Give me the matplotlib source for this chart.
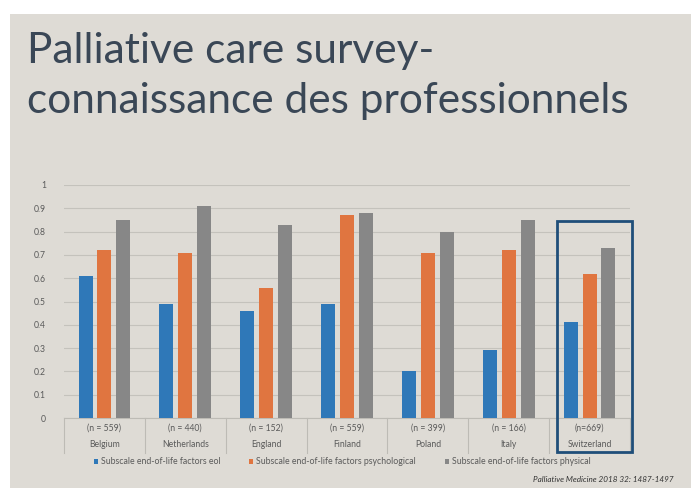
import matplotlib
matplotlib.use("Agg")
import matplotlib.pyplot as plt
import matplotlib.transforms as mtransforms
from matplotlib.patches import Rectangle
import numpy as np

plt.rcParams['font.family'] = ['Lato', 'DejaVu Sans']

countries = ['Belgium', 'Netherlands', 'England', 'Finland', 'Poland', 'Italy', 'Switzerland']
sizes = ['(n = 559)', '(n = 440)', '(n = 152)', '(n = 559)', '(n = 399)', '(n = 166)', '(n=669)']
eol = [0.61, 0.49, 0.46, 0.49, 0.20, 0.29, 0.41]
psychological = [0.72, 0.71, 0.56, 0.87, 0.71, 0.72, 0.62]
physical = [0.85, 0.91, 0.83, 0.88, 0.80, 0.85, 0.73]
series_names = ['Subscale end-of-life factors eol',
                'Subscale end-of-life factors psychological',
                'Subscale end-of-life factors physical']
yticks = [0, 0.1, 0.2, 0.3, 0.4, 0.5, 0.6, 0.7, 0.8, 0.9, 1]
ytick_labels = ['0', '0.1', '0.2', '0.3', '0.4', '0.5', '0.6', '0.7', '0.8', '0.9', '1']

colors = ['#2f78b8', '#e07540', '#878787']
bg = '#dedbd5'
txt = '#5a5a5a'

fig = plt.figure(figsize=(6.91, 4.88), dpi=100, facecolor='white')

# slide background (photo border is white)
slide = fig.add_axes([10 / 691, 0, 681 / 691, 474 / 488])
slide.set_facecolor(bg)
slide.set_xticks([])
slide.set_yticks([])
for s in slide.spines.values():
    s.set_visible(False)
slide.set_zorder(-1)

fig.text(27 / 691, (488 - 63) / 488, 'Palliative care survey-', fontsize=30.5,
         color='#3a4756', ha='left', va='baseline')
fig.text(27 / 691, (488 - 113) / 488, 'connaissance des professionnels', fontsize=30.5,
         color='#3a4756', ha='left', va='baseline')

ax = fig.add_axes([64 / 691, (488 - 418) / 488, 566 / 691, 233 / 488])
ax.set_facecolor('none')
x = np.arange(len(countries))
w = 0.172
step = 0.233
for i, (vals, c, name) in enumerate(zip([eol, psychological, physical], colors, series_names)):
    ax.bar(x + (i - 1) * step, vals, width=w, color=c, label=name, zorder=3)

ax.set_xlim(-0.5, len(countries) - 0.5)
ax.set_ylim(0, 1)
ax.set_yticks(yticks)
ax.set_yticklabels(ytick_labels)
ax.tick_params(axis='y', length=0, pad=13, labelsize=6.2, labelcolor=txt)
ax.set_xticks([])
ax.grid(axis='y', color='#c4c2bc', lw=0.8, zorder=0)
for s in ['top', 'right', 'left']:
    ax.spines[s].set_visible(False)
ax.spines['bottom'].set_color('#bdbbb5')
ax.spines['bottom'].set_linewidth(0.8)

trans = mtransforms.blended_transform_factory(ax.transData, ax.transAxes)
for i in range(len(countries) + 1):
    ax.plot([i - 0.5, i - 0.5], [0, -0.15], transform=trans, color='#bdbbb5',
            lw=0.8, clip_on=False)
for i, (n, c) in enumerate(zip(sizes, countries)):
    ax.text(i, -0.045, n, transform=trans, ha='center', va='center', fontsize=6.2,
            color=txt)
    ax.text(i, -0.115, c, transform=trans, ha='center', va='center', fontsize=6.2,
            color=txt)

ax.add_patch(Rectangle((5.6, -0.148), 0.93, 0.993, transform=trans, fill=False,
                       edgecolor='#1f4e79', lw=2, clip_on=False, zorder=5))

fig.legend(loc='center', bbox_to_anchor=(342 / 691, (488 - 462) / 488), ncol=3,
           frameon=False, fontsize=6.3, handlelength=0.5, handleheight=0.5,
           columnspacing=3.3, handletextpad=0.3, labelcolor=txt)

fig.text(674 / 691, (488 - 479) / 488, 'Palliative Medicine 2018 32: 1487-1497',
         fontsize=5.9, style='italic', color='#333333', ha='right', va='center')

fig.savefig('out.png', dpi=100, facecolor=fig.get_facecolor())
